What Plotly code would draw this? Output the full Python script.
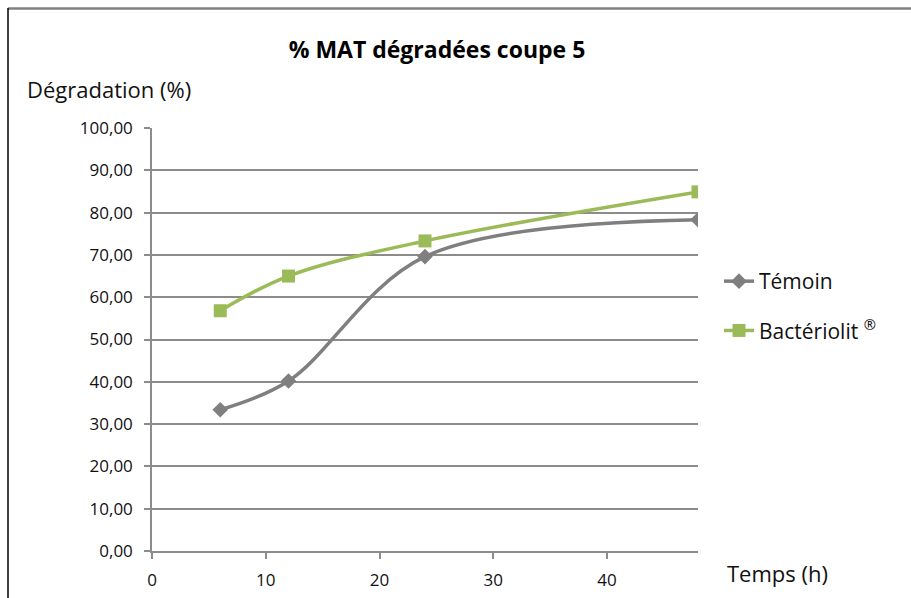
import plotly.graph_objects as go

# Hours after incubation start
temps_h = [6, 12, 24, 48]

# Degraded MAT (%) per treatment
temoin = [33.4, 40.2, 69.6, 78.3]
bacteriolit = [56.8, 65.0, 73.3, 84.9]

series_names = ["Témoin", "Bactériolit <sup>®</sup>"]

y_ticks = [0, 10, 20, 30, 40, 50, 60, 70, 80, 90, 100]
x_ticks = [0, 10, 20, 30, 40]

GREY = "#7f7f7f"
GREEN = "#9bbb59"
GRID = "#8c8c8c"
FONT = "Open Sans"
TXT = "#111111"

fig = go.Figure()
fig.add_trace(go.Scatter(
    x=temps_h, y=temoin, name=series_names[0], mode="lines+markers",
    line=dict(color=GREY, width=3.5, shape="spline", smoothing=1.0),
    marker=dict(symbol="diamond", size=12, color=GREY),
    legendgroup="a",
))
fig.add_trace(go.Scatter(
    x=temps_h, y=bacteriolit, name=series_names[1], mode="lines+markers",
    line=dict(color=GREEN, width=3.5, shape="spline", smoothing=1.0),
    marker=dict(symbol="square", size=13, color=GREEN),
    legendgroup="b",
))

W, H = 911, 598
L, R, T, B = 152, 698, 128, 551
pw, ph = R - L, B - T


def px(xp):
    return (xp - L) / pw


def py(yp):
    return (B - yp) / ph


fig.update_layout(
    width=W, height=H,
    margin=dict(l=L, r=W - R, t=T, b=H - B, pad=0, autoexpand=False),
    paper_bgcolor="white", plot_bgcolor="white",
    separators=", ",
    font=dict(family=FONT, color=TXT),
    title=dict(
        text="<b>% MAT dégradées coupe 5</b>",
        x=437 / W, xanchor="center", y=1 - 50 / H, yanchor="middle",
        font=dict(size=23, family=FONT, color="#000000"),
    ),
    showlegend=True,
    legend=dict(
        x=px(719), xanchor="left", y=py(306), yanchor="middle",
        font=dict(size=21, family=FONT, color=TXT),
        tracegroupgap=19, traceorder="grouped",
        bgcolor="rgba(0,0,0,0)",
    ),
    xaxis=dict(
        range=[0, 48], tickvals=x_ticks, ticktext=[str(v) for v in x_ticks],
        showgrid=False, zeroline=False, automargin=False,
        showline=True, linecolor=GRID, linewidth=1.5,
        ticks="outside", ticklen=6, tickcolor=GRID, tickwidth=1.5,
        tickfont=dict(size=17, family=FONT, color=TXT),
        ticklabelstandoff=7,
    ),
    yaxis=dict(
        range=[0, 100], tickvals=y_ticks, tickformat=".2f", automargin=False,
        showgrid=True, gridcolor=GRID, gridwidth=1.5, zeroline=False,
        showline=True, linecolor=GRID, linewidth=1.5,
        ticks="outside", ticklen=6, tickcolor=GRID, tickwidth=1.5,
        tickfont=dict(size=17, family=FONT, color=TXT),
        ticklabelstandoff=8,
    ),
    annotations=[
        dict(text="Dégradation (%)", xref="paper", yref="paper",
             x=px(25), y=py(89), xanchor="left", yanchor="middle",
             showarrow=False, font=dict(size=22, family=FONT, color=TXT)),
        dict(text="Temps (h)", xref="paper", yref="paper",
             x=px(725), y=py(573), xanchor="left", yanchor="middle",
             showarrow=False, font=dict(size=22, family=FONT, color=TXT)),
    ],
    shapes=[
        dict(type="line", xref="paper", yref="paper",
             x0=px(8), x1=px(912), y0=py(8.5), y1=py(8.5),
             line=dict(color="#808080", width=2.5)),
        dict(type="line", xref="paper", yref="paper",
             x0=px(8), x1=px(8), y0=py(8), y1=py(600),
             line=dict(color="#000000", width=1.5)),
    ],
)

fig.write_html("out.html")
